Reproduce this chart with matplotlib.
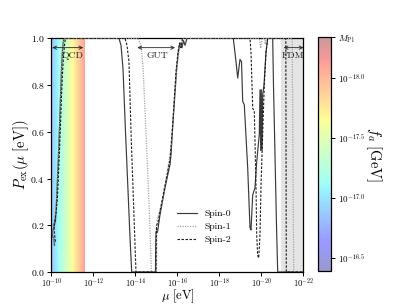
import numpy as np
import matplotlib
matplotlib.use('Agg')
import matplotlib.pyplot as plt
from matplotlib.colors import ListedColormap, Normalize
from matplotlib.ticker import NullLocator, FixedLocator
import matplotlib.cm as cm

plt.rcParams.update({
    'font.family': 'serif',
    'font.serif': ['cmr10', 'DejaVu Serif'],
    'mathtext.fontset': 'cm',
    'axes.formatter.use_mathtext': True,
    'axes.unicode_minus': False,
})

# ---------------- data (log10 of mu in eV, excitation probability) ----------------
spin0_logmu = [-10.143, -10.119, -10.048, -10.024, -10.095, -10.190, -10.238, -10.286, -10.333,
               -10.381, -10.429, -10.476, -10.524, -10.571, -10.619,
               -13.214, -13.310, -13.405, -13.524, -13.643, -13.738, -13.819,
               -14.952, -14.962, -14.976, -15.024, -15.048, -15.095, -15.167, -15.405, -15.643,
               -15.690, -15.800, -15.962, -16.038, -16.119, -16.214, -16.286, -16.357, -16.452,
               -18.657, -18.786, -18.867, -18.976, -19.048, -19.105, -19.181, -19.343, -19.452,
               -19.500, -19.581, -19.690, -19.771, -19.895, -19.929, -19.962, -19.990, -20.024,
               -20.057, -20.119, -20.214, -20.295, -20.533, -20.571, -20.643, -20.714, -20.771, -22.0]
spin0_p = [0.115, 0.14, 0.155, 0.17, 0.185, 0.22, 0.30, 0.40, 0.50,
           0.62, 0.75, 0.87, 0.95, 0.99, 1.0,
           1.0, 0.97, 0.87, 0.60, 0.35, 0.15, 0.0,
           0.0, 0.10, 0.17, 0.185, 0.17, 0.20, 0.245, 0.36, 0.46,
           0.50, 0.66, 0.87, 0.94, 0.98, 0.96, 0.99, 0.97, 1.0,
           1.0, 0.90, 0.83, 0.91, 0.90, 0.73, 0.715, 0.445, 0.19,
           0.18, 0.33, 0.36, 0.47, 0.59, 0.78, 0.52, 0.78, 0.52,
           0.76, 0.80, 0.94, 1.0, 1.0, 0.80, 0.50, 0.20, 0.0, 0.0]

spin1_logmu = [-10.167, -10.086, -10.071, -10.167, -10.252, -10.300, -10.348, -10.395, -10.443,
               -10.490, -10.538, -10.586, -10.633,
               -14.119, -14.262, -14.357, -14.500, -14.643, -14.762,
               -15.000, -15.024, -15.119, -15.262, -15.500, -15.714, -15.833, -15.952, -16.048,
               -16.143, -16.262,
               -19.895, -19.962, -20.024, -20.143, -20.181, -20.224,
               -21.462, -21.533, -22.0]
spin1_p = [0.12, 0.15, 0.19, 0.24, 0.32, 0.42, 0.53, 0.65, 0.77,
           0.88, 0.95, 0.99, 1.0,
           1.0, 0.97, 0.88, 0.60, 0.30, 0.0,
           0.0, 0.22, 0.25, 0.30, 0.42, 0.55, 0.72, 0.86, 0.93,
           0.97, 1.0,
           1.0, 0.958, 1.0, 1.0, 0.975, 1.0,
           1.0, 0.0, 0.0]

spin2_logmu = [-10.190, -10.143, -10.119, -10.214, -10.286, -10.333, -10.381, -10.429, -10.476,
               -10.524, -10.571, -10.619, -10.667,
               -13.500, -13.595, -13.690, -13.786, -13.905, -14.024,
               -14.976, -15.000, -15.071, -15.167, -15.405, -15.643, -15.786, -15.929, -16.024,
               -16.095, -16.167, -16.238,
               -19.452, -19.500, -19.548, -19.581, -19.657, -19.738, -19.771, -19.819, -19.867,
               -19.929, -19.976, -20.057, -20.133, -20.214, -20.295,
               -21.157, -21.181, -22.0]
spin2_p = [0.13, 0.16, 0.20, 0.25, 0.32, 0.42, 0.52, 0.63, 0.75,
           0.85, 0.92, 0.97, 1.0,
           1.0, 0.97, 0.90, 0.60, 0.30, 0.0,
           0.0, 0.20, 0.21, 0.26, 0.37, 0.48, 0.65, 0.86, 0.94,
           0.98, 0.96, 1.0,
           1.0, 0.94, 0.80, 0.70, 0.69, 0.37, 0.16, 0.07, 0.06,
           0.16, 0.37, 0.59, 0.80, 0.94, 1.0,
           1.0, 0.0, 0.0]

series_labels = ['Spin-0', 'Spin-1', 'Spin-2']

# regions (log10 mu)
qcd_band = (-10.0, -11.6)
fdm_band = (-20.94, -22.0)
qcd_arrow = (-10.04, -11.51)
gut_arrow = (-14.09, -15.88)
fdm_arrow = (-21.06, -22.0)
region_labels = ['QCD', 'GUT', 'FDM']
region_label_pos = [-11.0, -15.05, -21.5]

# colorbar (log10 f_a)
cbar_range = (-18.34, -16.39)
cbar_ticks = [-18.34, -18.0, -17.5, -17.0, -16.5]
cbar_ticklabels = [r'$M_{\rm Pl}$', r'$10^{-18.0}$', r'$10^{-17.5}$', r'$10^{-17.0}$', r'$10^{-16.5}$']
qcd_band_cvals = (-16.85, -18.12)

xticks_log = [-10, -12, -14, -16, -18, -20, -22]
yticks = [0.0, 0.2, 0.4, 0.6, 0.8, 1.0]

# ---------------- figure ----------------
fig = plt.figure(figsize=(4.07, 3.05), dpi=100)
ax = fig.add_axes([0.1265, 0.1082, 0.6192, 0.7662])

# pastel colormap
base = plt.get_cmap('jet_r')(np.linspace(0, 1, 256))
alpha = 0.40
past = base.copy()
past[:, :3] = alpha * base[:, :3] + (1 - alpha) * 1.0
pcmap = ListedColormap(past)
norm = Normalize(vmin=cbar_range[0], vmax=cbar_range[1])

# QCD coloured band (strips)
nstrip = 80
edges = np.linspace(qcd_band[0], qcd_band[1], nstrip + 1)
cv = np.linspace(qcd_band_cvals[0], qcd_band_cvals[1], nstrip)
for i in range(nstrip):
    ax.axvspan(10 ** edges[i], 10 ** edges[i + 1], color=pcmap(norm(cv[i])), lw=0, zorder=0)

# FDM grey band
ax.axvspan(10 ** fdm_band[0], 10 ** fdm_band[1], color='#e4e4e4', lw=0, zorder=0)

# curves
ax.plot(10 ** np.array(spin0_logmu), spin0_p, color='#3a3a3a', lw=0.85, ls='-', label=series_labels[0], zorder=3)
ax.plot(10 ** np.array(spin1_logmu), spin1_p, color='#a5a5a5', lw=0.9, ls=(0, (1.0, 1.0)), label=series_labels[1], zorder=3)
ax.plot(10 ** np.array(spin2_logmu), spin2_p, color='#1a1a1a', lw=0.8, ls=(0, (2.2, 1.4)), label=series_labels[2], zorder=3)

# arrows + labels
for arr, lab, lp in zip([qcd_arrow, gut_arrow, fdm_arrow], region_labels, region_label_pos):
    ax.annotate('', xy=(10 ** arr[0], 0.96), xytext=(10 ** arr[1], 0.96),
                arrowprops=dict(arrowstyle='<->', lw=0.6, color='#222222',
                                mutation_scale=6, shrinkA=0, shrinkB=0), zorder=4)
    ax.text(10 ** lp, 0.925, lab, ha='center', va='center', fontsize=7, color='#222222', zorder=4)

ax.set_xscale('log')
ax.set_xlim(10 ** xticks_log[0], 10 ** xticks_log[-1])
ax.set_ylim(0, 1.0)
ax.xaxis.set_major_locator(FixedLocator([10.0 ** t for t in xticks_log]))
ax.xaxis.set_minor_locator(NullLocator())
ax.set_yticks(yticks)
ax.tick_params(axis='y', labelsize=7, length=3, width=0.7, pad=2)
ax.tick_params(axis='x', labelsize=6.2, length=3, width=0.7, pad=0.5)
for s in ax.spines.values():
    s.set_linewidth(0.9)

ax.set_xlabel(r'$\mu\ [{\rm eV}]$', fontsize=9)
ax.xaxis.set_label_coords(0.5, -0.068)
ax.set_ylabel(r'$P_{\rm ex}(\mu\ [{\rm eV}])$', fontsize=10.5)
ax.yaxis.set_label_coords(-0.08, 0.5)

ax.legend(frameon=False, loc='upper left', bbox_to_anchor=(0.484, 0.285), borderaxespad=0,
          fontsize=7, handlelength=2.0, labelspacing=0.45)

# colorbar
cax = fig.add_axes([0.781, 0.1115, 0.032, 0.767])
sm = cm.ScalarMappable(norm=norm, cmap=pcmap)
cb = fig.colorbar(sm, cax=cax)
cb.ax.invert_yaxis()
cb.set_ticks(cbar_ticks)
cb.set_ticklabels(cbar_ticklabels)
cb.ax.tick_params(labelsize=6.5, length=3, width=0.7, pad=2)
cb.outline.set_linewidth(0.9)
cb.set_label(r'$f_a\ [{\rm GeV}]$', fontsize=10.5, rotation=270, labelpad=13)

fig.savefig('out.png', dpi=100)
